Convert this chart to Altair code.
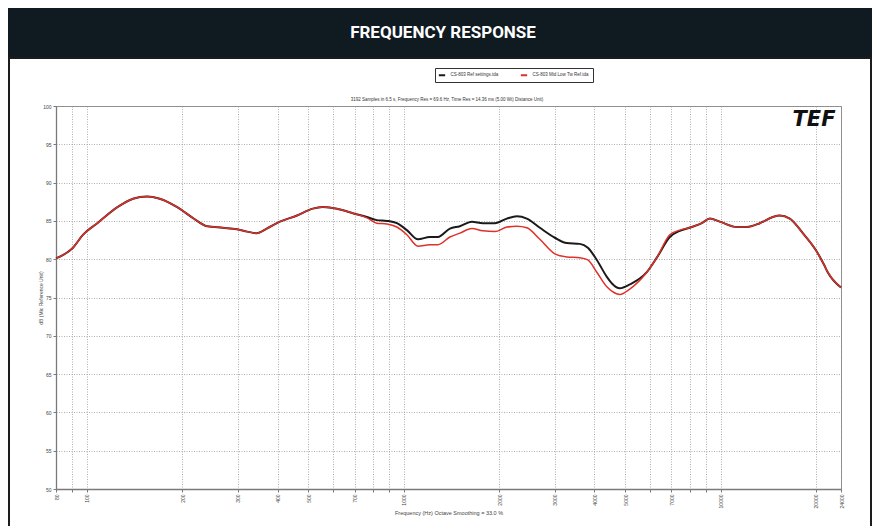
import altair as alt
import pandas as pd

# ---- data ----
freq = [80, 90.5, 97.4, 108, 125, 140, 155, 170, 193, 216, 240, 269, 298, 321, 344, 370,
        407, 461, 517, 556, 616, 692, 766, 823, 886, 952, 1024, 1110, 1210, 1283, 1400,
        1505, 1642, 1778, 1941, 2118, 2278, 2448, 2691, 3001, 3274, 3598, 3814, 4071,
        4378, 4552, 4811, 5173, 5853, 6295, 6918, 7440, 8116, 8728, 9252, 9947, 11255,
        12104, 13305, 14620, 15375, 16543, 18186, 20122, 21200, 21794, 24000]

ref_db = [80.1, 81.5, 83.2, 84.7, 86.8, 87.9, 88.2, 87.9, 86.8, 85.4, 84.3, 84.1, 83.9, 83.6, 83.4, 84.0,
          84.9, 85.7, 86.6, 86.8, 86.6, 86.0, 85.5, 85.1, 85.0, 84.7, 83.8, 82.6, 82.9, 82.9, 84.0,
          84.3, 84.9, 84.7, 84.7, 85.3, 85.6, 85.3, 84.1, 82.8, 82.1, 82.0, 81.5, 79.9,
          77.7, 76.8, 76.2, 76.7, 78.3, 80.2, 82.9, 83.7, 84.2, 84.7, 85.3, 84.9, 84.2,
          84.2, 84.7, 85.5, 85.7, 85.3, 83.4, 81.0, 79.3, 78.3, 76.3]

mid_db = [80.1, 81.5, 83.2, 84.7, 86.8, 87.9, 88.2, 87.9, 86.8, 85.4, 84.3, 84.1, 83.9, 83.6, 83.4, 84.0,
          84.9, 85.7, 86.6, 86.8, 86.6, 86.0, 85.4, 84.7, 84.6, 84.2, 83.2, 81.7, 81.9, 81.9, 82.9,
          83.4, 84.0, 83.7, 83.6, 84.2, 84.3, 84.1, 82.6, 80.7, 80.3, 80.2, 79.9, 78.3,
          76.4, 75.8, 75.4, 76.1, 78.3, 80.2, 83.2, 83.8, 84.2, 84.7, 85.3, 84.9, 84.2,
          84.2, 84.7, 85.5, 85.7, 85.3, 83.4, 81.0, 79.3, 78.3, 76.3]

series_names = ["CS-803  Ref settings.tda", "CS-803  Mid Low Tw Ref.tda"]
series_colors = ["#1a1a1a", "#e0302a"]

grid_freqs = [80, 90, 100, 200, 300, 400, 500, 600, 700, 800, 900, 1000, 2000, 3000,
              4000, 5000, 6000, 7000, 8000, 9000, 10000, 20000, 24000]
labeled_freqs = [80, 100, 200, 300, 400, 500, 700, 1000, 2000, 3000, 4000, 5000, 7000,
                 10000, 20000, 24000]
db_ticks = [50, 55, 60, 65, 70, 75, 80, 85, 90, 95, 100]

title_text = "FREQUENCY RESPONSE"
subtitle_text = "3192 Samples in 6.5 s, Frequency Res = 69.6 Hz, Time Res = 14.36 ms (5.00 Wt) Distance Unit)"
x_title = "Frequency (Hz) Octave Smoothing = 33.0 %"
y_title = "dB (Mic Reference Unit)"

df_ref = pd.DataFrame({"freq": freq, "db": ref_db, "series": series_names[0]})
df_mid = pd.DataFrame({"freq": freq, "db": mid_db, "series": series_names[1]})

W, H = 785, 383
PAD_L, PAD_T, PAD_R, PAD_B = 48, 98, 31, 37

label_expr = "indexof([" + ",".join(str(v) for v in labeled_freqs) + "], datum.value) >= 0 ? format(datum.value, 'd') : ''"

x_enc = alt.X("freq:Q",
              scale=alt.Scale(type="log", domain=[80, 24000], nice=False),
              axis=alt.Axis(values=grid_freqs, labelExpr=label_expr, labelAngle=270,
                            labelAlign="right", labelBaseline="middle", labelFontSize=5,
                            labelPadding=2, tickSize=3, title=x_title, titleFontSize=5.5,
                            titleFontWeight="normal", titleY=23, titleBaseline="middle"))
y_enc = alt.Y("db:Q",
              scale=alt.Scale(domain=[50, 100], nice=False, zero=False),
              axis=alt.Axis(values=db_ticks, labelFontSize=5, tickSize=3, labelPadding=2,
                            title=y_title, titleFontSize=5, titleFontWeight="normal",
                            titleAngle=270, titleX=-16, titleBaseline="middle"))
color_enc = alt.Color("series:N",
                      scale=alt.Scale(domain=series_names, range=series_colors),
                      legend=alt.Legend(title=None, orient="none", legendX=379, legendY=-38,
                                        direction="horizontal", symbolType="stroke",
                                        symbolStrokeWidth=2, symbolSize=40, labelFontSize=4.5,
                                        labelLimit=200, columnPadding=16, padding=2.5,
                                        strokeColor="#333", fillColor="white",
                                        labelColor="#333"))

line_ref = alt.Chart(df_ref).mark_line(strokeWidth=2.0, interpolate="monotone").encode(
    x=x_enc, y=y_enc, color=color_enc)
line_mid = alt.Chart(df_mid).mark_line(strokeWidth=1.5, interpolate="monotone").encode(
    x=x_enc, y=y_enc, color=color_enc)

one = alt.Data(values=[{}])
header = alt.Chart(one).mark_rect(color="#0f1a21").encode(
    x=alt.value(-PAD_L), x2=alt.value(W + PAD_R), y=alt.value(-PAD_T), y2=alt.value(-PAD_T + 50))
panel = alt.Chart(one).mark_rect(fill="transparent", stroke="#1c1c1c", strokeWidth=2).encode(
    x=alt.value(-PAD_L + 1), x2=alt.value(W + PAD_R - 1), y=alt.value(-PAD_T + 50), y2=alt.value(H + PAD_B + 20))
title = alt.Chart(one).mark_text(text=title_text, color="white", font="Roboto", fontWeight="bold",
                                 fontSize=17, align="center", baseline="middle").encode(
    x=alt.value(387), y=alt.value(-73))
subtitle = alt.Chart(one).mark_text(text=subtitle_text, color="#333", font="Liberation Sans",
                                    fontSize=4.5, align="center", baseline="middle").encode(
    x=alt.value(391), y=alt.value(-6))
logo = alt.Chart(one).mark_text(text="TEF", color="#111", font="DejaVu Sans", fontWeight="bold",
                                fontStyle="italic", fontSize=21, align="center", baseline="middle").encode(
    x=alt.value(758), y=alt.value(14))

chart = alt.layer(header, panel, title, subtitle, line_ref, line_mid, logo).properties(
    width=W, height=H,
    autosize=alt.AutoSizeParams(type="none"),
    padding={"left": PAD_L, "top": PAD_T, "right": PAD_R, "bottom": PAD_B},
    background="white",
).configure_view(stroke="#8a8a8a", strokeWidth=1).configure_axis(
    gridColor="#9a9a9a", gridDash=[1, 1.5], gridWidth=0.8,
    domainColor="#7a7a7a", domainWidth=1.3, tickColor="#7a7a7a",
    labelColor="#444", titleColor="#444", labelFont="Liberation Sans", titleFont="Liberation Sans"
)

chart.save("out.html", embed_options={"renderer": "svg", "actions": False})
